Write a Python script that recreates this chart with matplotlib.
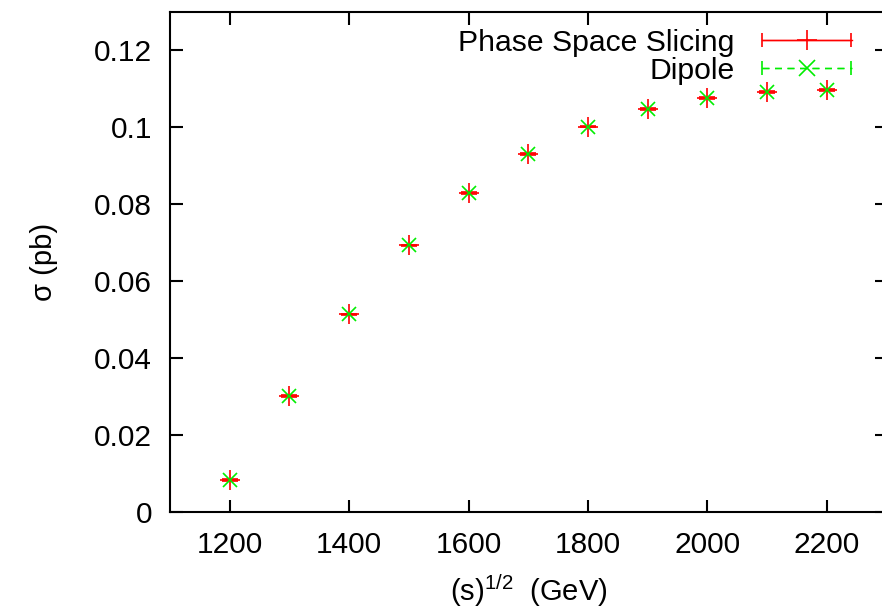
import numpy as np
import matplotlib
matplotlib.use("Agg")
import matplotlib.pyplot as plt
from matplotlib.legend_handler import HandlerErrorbar

plt.rcParams['font.family'] = ['Liberation Sans', 'DejaVu Sans']

sqrt_s = [1200, 1300, 1400, 1500, 1600, 1700, 1800, 1900, 2000, 2100, 2200]
sigma_pss = [0.0083, 0.0301, 0.0514, 0.0693, 0.0829, 0.0931, 0.1002, 0.1048, 0.1077, 0.1092, 0.1097]
sigma_dipole = [0.0083, 0.0301, 0.0514, 0.0693, 0.0829, 0.0931, 0.1002, 0.1048, 0.1077, 0.1092, 0.1097]
err_pss = [0.0002] * 11

xticks = [1200, 1400, 1600, 1800, 2000, 2200]
yticks = [0, 0.02, 0.04, 0.06, 0.08, 0.1, 0.12]
yticklabels = ['0', '0.02', '0.04', '0.06', '0.08', '0.1', '0.12']

fig = plt.figure(figsize=(8.82, 6.08), dpi=100)
L, R, T, B = 170, 886.6, 12, 512
ax = fig.add_axes([L / 882, 1 - B / 608, (R - L) / 882, (B - T) / 608])

red = '#ff0000'
green = '#00ee00'

ax.errorbar(sqrt_s, sigma_pss, yerr=err_pss, fmt='+', color=red, markersize=14,
            mew=1.2, capsize=6, capthick=2.5, elinewidth=1, zorder=3)
ax.plot(sqrt_s, sigma_dipole, 'x', color=green, markersize=10, mew=1.2, zorder=4)

# legend handles (dummy containers)
h1 = ax.errorbar([np.nan], [np.nan], xerr=[1], fmt='+-', color=red, markersize=14,
                 mew=1.2, capsize=5, lw=1, label='Phase Space Slicing')
h2 = ax.errorbar([np.nan], [np.nan], xerr=[1], fmt='x--', color=green, markersize=12,
                 mew=1.2, capsize=5, lw=1, dashes=(5, 4), label='Dipole')
for lc in h2[2]:
    lc.set_linestyle((0, (5, 4)))
hl = 3.0
leg = ax.legend(handles=[h1, h2], loc='upper right', bbox_to_anchor=(0.977, 1.003),
                frameon=False, markerfirst=False, handlelength=hl, fontsize=21.7,
                labelspacing=0.0, handletextpad=0.9, borderpad=0.1,
                handler_map={type(h1): HandlerErrorbar(xerr_size=hl / 2 - 0.02)})

ax.set_xlim(1100, 2300)
ax.set_ylim(0, 0.13)
ax.set_xticks(xticks)
ax.set_yticks(yticks)
ax.set_yticklabels(yticklabels)
ax.tick_params(direction='in', top=True, right=True, length=9, width=1.5,
               labelsize=21.5, colors='black')
ax.tick_params(axis='x', pad=14)
ax.tick_params(axis='y', pad=13)
for s in ax.spines.values():
    s.set_linewidth(1.5)

ax.set_xlabel(r'(s)$^{\mathregular{1/2}}$  (GeV)', fontsize=21, labelpad=9)
ax.set_ylabel('σ (pb)', fontsize=21, labelpad=26)

fig.savefig('out.png', dpi=100)
